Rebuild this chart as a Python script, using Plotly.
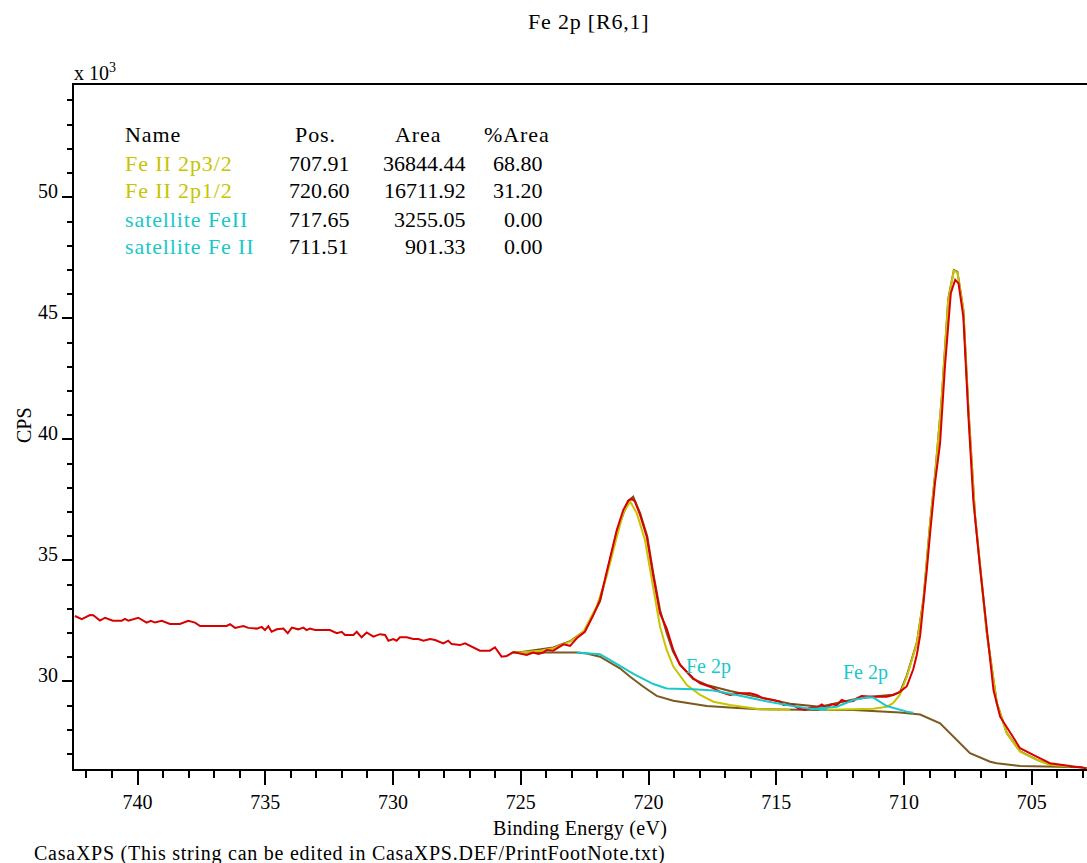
import plotly.graph_objects as go

# ---------------- data (binding energy eV, CPS in units of 10^3) ----------------
data_be = [742.45, 742.18, 741.86, 741.73, 741.47, 741.27, 740.96, 740.62, 740.49, 740.36,
           739.97, 739.64, 739.48, 739.32, 739.05, 738.73, 738.34, 738.01, 737.75, 737.55,
           736.51, 736.38, 736.18, 735.86, 735.66, 735.33, 735.14, 735.01, 734.88, 734.75,
           734.55, 734.29, 734.12, 733.96, 733.71, 733.51, 733.38, 733.25, 733.05, 732.47,
           732.20, 732.01, 731.88, 731.55, 731.42, 731.23, 731.03, 730.77, 730.51, 730.31,
           730.18, 729.99, 729.86, 729.73, 729.46, 729.21, 729.01, 728.81, 728.55, 728.35,
           728.03, 727.84, 727.70, 727.38, 727.18, 726.86, 726.60, 726.21, 726.01, 725.75,
           725.55, 725.29, 725.03, 724.77, 724.51, 724.31, 724.12, 723.98, 723.73, 723.33,
           723.07, 722.81, 722.49, 722.16, 721.90, 721.64, 721.24, 720.99, 720.79, 720.66,
           720.53, 720.33, 720.07, 719.81, 719.55, 719.29, 719.03, 718.77, 718.50, 718.25,
           717.98, 717.59, 717.20, 716.81, 716.42, 716.03, 715.77, 715.51, 715.12, 714.85,
           714.72, 714.33, 714.14, 713.87, 713.68, 713.42, 713.22, 713.03, 712.83, 712.63,
           712.44, 712.24, 711.98, 711.85, 711.66, 711.20, 710.68, 710.42, 710.16, 709.89,
           709.64, 709.50, 709.37, 709.24, 709.11, 708.98, 708.79, 708.59, 708.40, 708.17,
           708.00, 707.87, 707.68, 707.48, 707.29, 707.03, 706.76, 706.50, 706.24, 705.85,
           705.46, 704.81, 704.29, 703.51, 702.85]
data_cps = [32.70, 32.57, 32.74, 32.73, 32.51, 32.63, 32.51, 32.51, 32.58, 32.51,
            32.63, 32.43, 32.50, 32.43, 32.50, 32.37, 32.37, 32.50, 32.43, 32.29,
            32.29, 32.36, 32.21, 32.29, 32.21, 32.18, 32.25, 32.12, 32.28, 32.05,
            32.15, 32.18, 31.99, 32.22, 32.15, 32.22, 32.12, 32.18, 32.12, 32.12,
            31.99, 32.05, 31.92, 31.92, 32.05, 31.82, 32.02, 31.85, 31.95, 31.92,
            31.68, 31.75, 31.68, 31.82, 31.82, 31.75, 31.75, 31.68, 31.75, 31.71,
            31.57, 31.68, 31.54, 31.50, 31.57, 31.41, 31.27, 31.27, 31.41, 31.02,
            31.05, 31.21, 31.15, 31.09, 31.19, 31.13, 31.19, 31.30, 31.27, 31.53,
            31.47, 31.78, 32.05, 32.74, 33.36, 34.47, 36.26, 37.08, 37.47, 37.54,
            37.43, 36.88, 35.98, 34.33, 32.81, 32.19, 31.30, 30.68, 30.40, 30.13,
            29.92, 29.78, 29.57, 29.44, 29.51, 29.51, 29.44, 29.30, 29.23, 29.16,
            29.02, 29.02, 28.89, 28.82, 28.91, 28.91, 29.05, 28.92, 29.05, 29.02,
            29.23, 29.16, 29.19, 29.30, 29.40, 29.37, 29.37, 29.44, 29.57, 29.80,
            30.50, 31.10, 31.90, 33.20, 34.60, 36.12, 38.19, 39.84, 43.00, 46.04,
            46.59, 46.45, 45.07, 40.94, 37.50, 34.74, 31.99, 29.64, 28.54, 27.86,
            27.24, 26.89, 26.62, 26.50, 26.41]

bg_be = [725.30, 725.03, 724.64, 722.81, 722.42, 721.90, 721.12, 720.72, 720.20, 719.68,
         719.03, 718.25, 717.72, 716.68, 715.64, 713.30, 711.98, 710.16, 709.37, 708.59,
         708.20, 707.42, 706.63, 706.37, 705.46, 704.42, 703.00]
bg_cps = [31.19, 31.19, 31.22, 31.19, 31.15, 31.02, 30.54, 30.19, 29.78, 29.40,
          29.20, 29.07, 28.98, 28.91, 28.85, 28.82, 28.82, 28.71, 28.63, 28.27,
          27.86, 27.03, 26.68, 26.62, 26.50, 26.48, 26.45]

env_be = [725.30, 725.03, 723.73, 723.07, 722.49, 721.90, 721.24, 720.80, 720.60, 720.33,
          720.05, 719.82, 719.55, 719.29, 719.05, 718.77, 718.26, 717.72, 716.81, 715.64,
          714.46, 713.30, 711.98, 711.20, 710.43, 710.16, 709.89, 709.50, 709.24, 708.98,
          708.79, 708.53, 708.27, 708.05, 707.91, 707.68, 707.48, 707.22, 707.03, 706.76,
          706.37, 705.98, 705.46, 704.81, 704.29, 703.51]
env_cps = [31.19, 31.20, 31.40, 31.66, 32.10, 33.30, 36.20, 37.45, 37.63, 36.95,
           36.00, 34.50, 32.95, 32.00, 31.25, 30.70, 30.10, 29.85, 29.60, 29.35,
           29.08, 28.95, 29.25, 29.38, 29.45, 29.55, 30.25, 31.60, 33.40, 36.55,
           38.50, 41.65, 45.80, 47.00, 46.92, 45.37, 41.24, 36.83, 34.76, 32.00,
           29.11, 27.87, 27.11, 26.77, 26.56, 26.49]

p12_be = [725.30, 725.03, 724.25, 723.73, 723.07, 722.55, 722.03, 721.64, 721.24, 720.99,
          720.72, 720.46, 720.14, 719.81, 719.55, 719.29, 719.03, 718.50, 717.98, 717.46,
          716.81, 715.64, 714.46]
p12_cps = [31.19, 31.19, 31.27, 31.37, 31.64, 32.05, 33.09, 34.33, 35.98, 36.95,
           37.43, 36.95, 35.84, 33.91, 32.26, 31.30, 30.61, 29.85, 29.44, 29.16,
           29.02, 28.85, 28.82]

p32_be = [713.30, 711.98, 711.20, 710.68, 710.43, 710.16, 709.89, 709.50, 709.24, 708.98,
          708.79, 708.53, 708.27, 708.05, 707.91, 707.68, 707.48, 707.22, 707.03, 706.76,
          706.37, 705.98, 705.46, 704.81, 704.29, 703.51]
p32_cps = [28.82, 28.85, 28.87, 28.95, 29.10, 29.45, 30.20, 31.57, 33.36, 36.53,
           38.46, 41.63, 45.76, 46.97, 46.89, 45.35, 41.22, 36.81, 34.74, 31.99,
           29.10, 27.86, 27.10, 26.76, 26.55, 26.48]

sat1_be = [722.81, 721.90, 721.38, 720.59, 719.81, 719.29, 718.25, 717.46, 716.55, 715.64,
           714.59, 713.81, 713.03]
sat1_cps = [31.19, 31.12, 30.81, 30.31, 29.89, 29.71, 29.67, 29.62, 29.44, 29.23,
            29.02, 28.89, 28.82]

sat2_be = [713.68, 712.63, 711.98, 711.46, 711.20, 710.68, 709.89, 709.64]
sat2_cps = [28.85, 28.95, 29.23, 29.34, 29.33, 28.98, 28.75, 28.70]

# component table
comp_names = ["Fe II 2p3/2", "Fe II 2p1/2", "satellite FeII", "satellite Fe II"]
comp_pos = ["707.91", "720.60", "717.65", "711.51"]
comp_area = ["36844.44", "16711.92", "3255.05", "901.33"]
comp_pct = ["68.80", "31.20", "0.00", "0.00"]
table_headers = ["Name", "Pos.", "Area", "%Area"]

# component labels on the plot
label_be = [717.65, 711.51]
label_cps = [30.60, 30.35]
label_text = ["Fe 2p", "Fe 2p"]

# ---------------- styling ----------------
FONT = "Liberation Serif, Times New Roman, serif"
RED = "#d80000"
YEL = "#c8c400"
CYAN = "#19c8c8"
BROWN = "#7a5a1e"
ENVC = "#7e4e1a"

W, H = 1087, 863
L, T, R, B = 74, 85, 1087, 769


def px(x):
    return (x - L) / (R - L)


def py(y):
    return (B - y) / (B - T)


def spaced(t, s=0.8):
    return '<span style="letter-spacing:%spx">%s</span>' % (s, t)


fig = go.Figure()
fig.add_trace(go.Scatter(x=bg_be, y=bg_cps, mode="lines", line=dict(color=BROWN, width=2)))
fig.add_trace(go.Scatter(x=env_be, y=env_cps, mode="lines", line=dict(color=ENVC, width=2)))
fig.add_trace(go.Scatter(x=p12_be, y=p12_cps, mode="lines", line=dict(color=YEL, width=2)))
fig.add_trace(go.Scatter(x=p32_be, y=p32_cps, mode="lines", line=dict(color=YEL, width=2)))
fig.add_trace(go.Scatter(x=data_be, y=data_cps, mode="lines", line=dict(color=RED, width=2)))
fig.add_trace(go.Scatter(x=sat1_be, y=sat1_cps, mode="lines", line=dict(color=CYAN, width=2)))
fig.add_trace(go.Scatter(x=sat2_be, y=sat2_cps, mode="lines", line=dict(color=CYAN, width=2)))

ann = []
# title
ann.append(dict(text=spaced("Fe 2p [R6,1]", 0.8), x=px(588), y=py(21), xref="paper", yref="paper",
                showarrow=False, xanchor="center", yanchor="middle",
                font=dict(family=FONT, size=22, color="black")))
# multiplier
ann.append(dict(text="x 10<sup>3</sup>", x=px(72), y=py(72), xref="paper", yref="paper",
                showarrow=False, xanchor="left", yanchor="middle",
                font=dict(family=FONT, size=20, color="black")))
# axis titles
ann.append(dict(text="CPS", x=px(24), y=py(425), xref="paper", yref="paper", textangle=-90,
                showarrow=False, xanchor="center", yanchor="middle",
                font=dict(family=FONT, size=20, color="black")))
ann.append(dict(text=spaced("Binding Energy (eV)", 0.3), x=px(580), y=py(828), xref="paper", yref="paper",
                showarrow=False, xanchor="center", yanchor="middle",
                font=dict(family=FONT, size=20, color="black")))
ann.append(dict(text=spaced("CasaXPS (This string can be edited in CasaXPS.DEF/PrintFootNote.txt)", 0.75),
                x=px(32), y=py(853), xref="paper", yref="paper",
                showarrow=False, xanchor="left", yanchor="middle",
                font=dict(family=FONT, size=20, color="black")))

# table
row_y = [134, 163, 191, 219, 247]
hdr_x = [(123, "left"), (293, "left"), (393, "left"), (482, "left")]
for (hx, anc), txt in zip(hdr_x, table_headers):
    ann.append(dict(text=spaced(txt, 0.9), x=px(hx), y=py(row_y[0]), xref="paper", yref="paper",
                    showarrow=False, xanchor=anc, yanchor="middle",
                    font=dict(family=FONT, size=22, color="black")))
comp_colors = [YEL, YEL, CYAN, CYAN]
for i in range(4):
    yy = py(row_y[i + 1])
    ann.append(dict(text=spaced(comp_names[i], 0.9), x=px(123), y=yy, xref="paper", yref="paper",
                    showarrow=False, xanchor="left", yanchor="middle",
                    font=dict(family=FONT, size=22, color=comp_colors[i])))
    ann.append(dict(text=comp_pos[i], x=px(287), y=yy, xref="paper", yref="paper",
                    showarrow=False, xanchor="left", yanchor="middle",
                    font=dict(family=FONT, size=22, color="black")))
    ann.append(dict(text=comp_area[i], x=px(468), y=yy, xref="paper", yref="paper",
                    showarrow=False, xanchor="right", yanchor="middle",
                    font=dict(family=FONT, size=22, color="black")))
    ann.append(dict(text=comp_pct[i], x=px(545), y=yy, xref="paper", yref="paper",
                    showarrow=False, xanchor="right", yanchor="middle",
                    font=dict(family=FONT, size=22, color="black")))

# component labels
for bx, cy, tx in zip(label_be, label_cps, label_text):
    ann.append(dict(text=tx, x=bx, y=cy, xref="x", yref="y", showarrow=False,
                    xanchor="center", yanchor="middle",
                    font=dict(family=FONT, size=20, color=CYAN)))

fig.update_layout(
    width=W, height=H,
    margin=dict(l=L, r=W - R, t=T, b=H - B, pad=0, autoexpand=False),
    plot_bgcolor="white", paper_bgcolor="white",
    showlegend=False,
    annotations=ann,
    xaxis=dict(range=[742.485, 702.84], showgrid=False, zeroline=False,
               showline=True, linecolor="black", linewidth=2, mirror=True,
               ticks="outside", ticklen=14, tickwidth=2, tickcolor="black",
               tick0=740, dtick=5, automargin=False,
               tickfont=dict(family=FONT, size=20, color="black"),
               minor=dict(ticks="outside", ticklen=7, tickwidth=2, tickcolor="black", dtick=1)),
    yaxis=dict(range=[26.38, 54.64], showgrid=False, zeroline=False,
               showline=True, linecolor="black", linewidth=2,
               ticks="outside", ticklen=10, tickwidth=2, tickcolor="black",
               tickvals=[30, 35, 40, 45, 50], automargin=False,
               ticklabelshift=-6,
               tickfont=dict(family=FONT, size=20, color="black"),
               minor=dict(ticks="outside", ticklen=5, tickwidth=2, tickcolor="black", dtick=1)),
)

fig.write_html("out.html", config={"displayModeBar": False},
               post_script="document.body.style.margin='0px';document.body.style.padding='0px';"
                           "document.documentElement.style.margin='0px';")
